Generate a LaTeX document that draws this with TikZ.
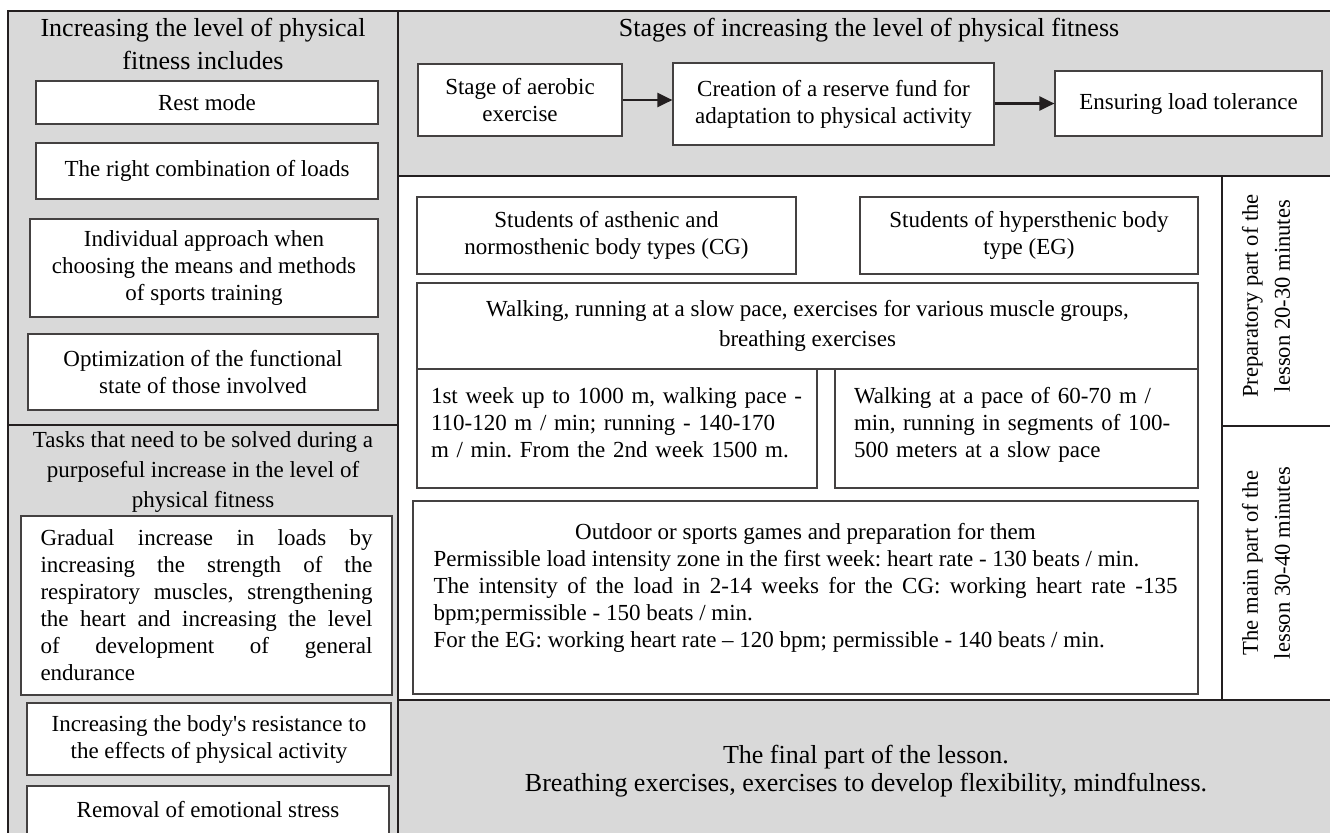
\documentclass[tikz,border=0pt]{standalone}
\usepackage{fontspec}
\setmainfont{Liberation Serif}
\usetikzlibrary{arrows.meta}
\setlength{\parindent}{0pt}
\frenchspacing

\definecolor{panelgray}{RGB}{217,217,217}
\definecolor{inkline}{RGB}{35,31,32}

\tikzset{
    panel/.style={draw=inkline, line width=1.1pt},
    cell/.style={draw=inkline!85, line width=0.6pt, fill=white, inner sep=0pt,
        align=center, font=\fontsize{11.5}{13.5}\selectfont},
    wh/.style 2 args={minimum width=#1*0.5pt, minimum height=#2*0.5pt},
    heading/.style={align=center, inner sep=0pt, font=\fontsize{13}{16.5}\selectfont},
    sidelabel/.style={rotate=90, align=center, inner sep=0pt, font=\fontsize{11.3}{16}\selectfont},
    stagearrow/.style={-{Triangle[length=7.5pt,width=7pt]}, line width=1.1pt, draw=inkline},
}

\begin{document}
\begin{tikzpicture}[x=0.5pt, y=-0.5pt]
    \useasboundingbox (0,0) rectangle (1330,832);
    \clip (0,0) rectangle (1330,832);
    % panels
    \filldraw[panel, fill=panelgray] (8,11) rectangle (398,425);
    \filldraw[panel, fill=panelgray] (8,425) rectangle (398,850);
    \filldraw[panel, fill=panelgray] (398,11) rectangle (1345,176);
    \draw[panel] (398,176) rectangle (1222,700);
    \draw[panel] (1222,176) rectangle (1345,426);
    \draw[panel] (1222,426) rectangle (1345,700);
    \filldraw[panel, fill=panelgray] (398,700) rectangle (1345,850);

    % left, top
    \node[heading] (includes) at (203,44) {Increasing the level of physical\\ fitness includes};
    \node[cell, line width=1pt, wh={342}{43}] (rest) at (207,102.5) {Rest mode};
    \node[cell, wh={342}{56}] (loads) at (207,171) {The right combination of loads};
    \node[cell, wh={348}{98}] (approach) at (204,268)
        {Individual approach when\\ choosing the means and methods\\ of sports training};
    \node[cell, wh={350}{76}] (optim) at (203,372) {Optimization of the functional\\ state of those involved};

    % left, bottom
    \node[heading, font=\fontsize{11.5}{15}\selectfont] (tasks) at (203,472)
        {Tasks that need to be solved during a\\ purposeful increase in the level of\\ physical fitness};
    \node[cell, wh={371}{179}, text width=332*0.5pt, align=justify] (gradual) at (206.5,605.5)
        {Gradual increase in loads by\linebreak
         increasing the strength of the\linebreak
         respiratory muscles, strengthening\linebreak
         the heart and increasing the level\linebreak
         of development of general\linebreak
         endurance};
    \node[cell, wh={364}{72}] (resist) at (209,739)
        {Increasing the body\textquotesingle s resistance to\\ the effects of physical activity};
    \node[cell, wh={362}{48}] (removal) at (208,810) {Removal of emotional stress};

    % right, stages
    \node[heading] (stages) at (869,30) {Stages of increasing the level of physical fitness};
    \node[cell, wh={204}{72}] (aerobic) at (520,100) {Stage of aerobic\\ exercise};
    \node[cell, wh={321}{82}] (reserve) at (833.5,104)
        {Creation of a reserve fund for\\ adaptation to physical activity};
    \node[cell, wh={267}{65}] (tolerance) at (1188.5,103.5) {Ensuring load tolerance};
    \draw[stagearrow] (aerobic.east) -- (aerobic.east -| reserve.west);
    \draw[stagearrow] (reserve.east |- tolerance.west) -- (tolerance.west);

    % right, lesson
    \node[cell, wh={379}{77}] (cg) at (606.5,235.5) {Students of asthenic and\\ normosthenic body types (CG)};
    \node[cell, wh={338}{77}] (eg) at (1029,235.5) {Students of hypersthenic body\\ type (EG)};
    \node[cell, wh={781}{86}, font=\fontsize{11.5}{15}\selectfont] (walking) at (807.5,326)
        {Walking, running at a slow pace, exercises for various muscle groups,\\ breathing exercises};
    \node[cell, wh={400}{119}, text width=372*0.5pt, align=left] (weekone) at (617,428.5)
        {1st week up to 1000 m, walking pace -\\ 110-120 m / min; running - 140-170\\
         m / min. From the 2nd week 1500 m.\rule[-6pt]{0pt}{6pt}};
    \node[cell, wh={363}{119}, text width=325*0.5pt, align=left] (slowpace) at (1016.5,428.5)
        {Walking at a pace of 60-70 m /\\ min, running in segments of 100-\\
         500 meters at a slow pace\rule[-6pt]{0pt}{6pt}};
    \node[cell, wh={785}{193}, text width=744*0.5pt, align=justify] (games) at (805.5,597.5)
        {{\centering Outdoor or sports games and preparation for them\par}
         Permissible load intensity zone in the first week: heart rate - 130 beats / min.\par
         The intensity of the load in 2-14 weeks for the CG: working heart rate -135\linebreak
         bpm;permissible - 150 beats / min.\par
         For the EG: working heart rate -- 120 bpm; permissible - 140 beats / min.\rule[-12pt]{0pt}{12pt}};

    \node[sidelabel] (prep) at (1266,296) {Preparatory part of the\\ lesson 20-30 minutes};
    \node[sidelabel] (mainpart) at (1266,563) {The main part of the\\ lesson 30-40 minutes};

    % final part
    \node[heading, font=\fontsize{13}{14}\selectfont] (final) at (866,771)
        {The final part of the lesson.\\ Breathing exercises, exercises to develop flexibility, mindfulness.};
\end{tikzpicture}
\end{document}
